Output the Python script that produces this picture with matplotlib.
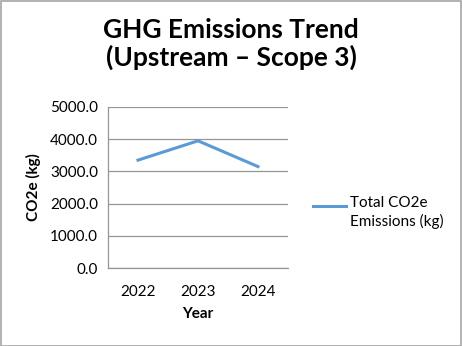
import matplotlib.pyplot as plt
from matplotlib.patches import Rectangle
from matplotlib.lines import Line2D

years = ["2022", "2023", "2024"]
emissions = [3350.0, 3950.0, 3150.0]
y_ticks = [0, 1000, 2000, 3000, 4000, 5000]
legend_label = "Total CO2e\nEmissions (kg)"

plt.rcParams["font.family"] = ["Lato", "DejaVu Sans"]

W, H = 462, 346
fig = plt.figure(figsize=(W / 100, H / 100), dpi=100)
ax = fig.add_axes([108 / W, 1 - 268 / H, 180 / W, 161 / H])

x = list(range(len(years)))
color = "#5B9BD5"
ax.plot(x, emissions, color=color, lw=2.2)
ax.set_xlim(-0.5, len(years) - 0.5)
ax.set_ylim(0, 5000)
ax.set_yticks(y_ticks)
ax.set_yticklabels([f"{v:.1f}" for v in y_ticks], fontsize=11)
ax.set_xticks(x)
ax.set_xticklabels(years, fontsize=11)
ax.tick_params(length=0, pad=7)
ax.tick_params(axis="x", pad=12)
ax.grid(axis="y", color="#969696", lw=0.9)
ax.set_axisbelow(True)
for s in ["top", "right"]:
    ax.spines[s].set_visible(False)
for s in ["left", "bottom"]:
    ax.spines[s].set_color("#969696")
    ax.spines[s].set_linewidth(0.9)

fig.text(198 / W, 1 - 314 / H, "Year", ha="center", va="center", fontsize=11, fontweight="bold")
fig.text(33 / W, 1 - 187 / H, "CO2e (kg)", ha="center", va="center", rotation=90,
         fontsize=11, fontweight="bold")
fig.text(0.5, 1 - 44 / H, "GHG Emissions Trend\n(Upstream \u2013 Scope 3)", ha="center", va="center",
         fontsize=19, fontweight="bold", linespacing=1.15)

# legend drawn by hand so the key sits level with the first line
fig.lines.append(Line2D([313 / W, 346 / W], [1 - 206 / H, 1 - 206 / H], transform=fig.transFigure,
                        color=color, lw=2.2))
fig.text(350 / W, 1 - 196 / H, legend_label, ha="left", va="top", fontsize=11, linespacing=1.35)

fig.patches.append(Rectangle((0.5 / W, 0.5 / H), 1 - 1.5 / W, 1 - 1.5 / H, transform=fig.transFigure,
                             fill=False, edgecolor="#a6a6a6", lw=1.2))

fig.savefig("out.png", dpi=100)
